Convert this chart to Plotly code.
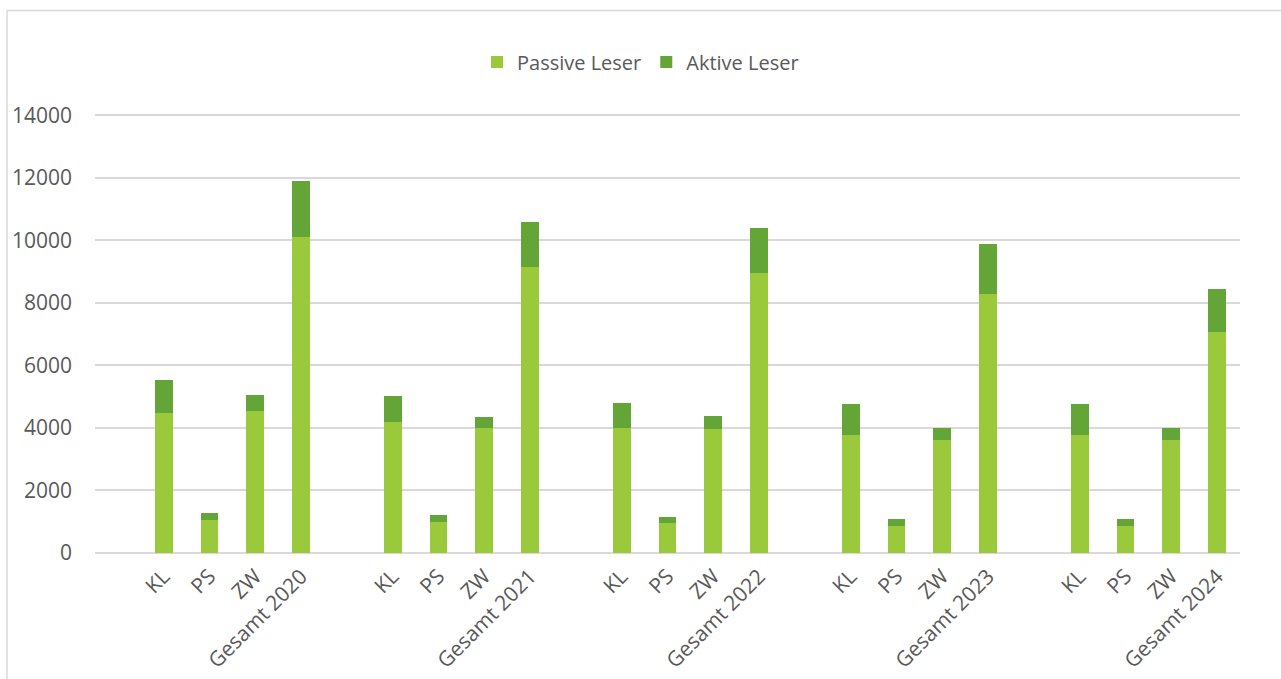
import plotly.graph_objects as go

labels = ["KL", "PS", "ZW", "Gesamt 2020", "",
          "KL", "PS", "ZW", "Gesamt 2021", "",
          "KL", "PS", "ZW", "Gesamt 2022", "",
          "KL", "PS", "ZW", "Gesamt 2023", "",
          "KL", "PS", "ZW", "Gesamt 2024"]

passive = [4480, 1060, 4545, 10100, None,
           4185, 990, 3995, 9160, None,
           4000, 970, 3970, 8965, None,
           3770, 870, 3620, 8275, None,
           3770, 860, 3610, 7060]

active = [1045, 225, 500, 1790, None,
          845, 225, 365, 1435, None,
          810, 190, 405, 1415, None,
          1000, 215, 385, 1600, None,
          1000, 220, 385, 1370]

y_ticks = [0, 2000, 4000, 6000, 8000, 10000, 12000, 14000]

x = list(range(1, len(labels) + 1))

FONT = "Open Sans"
TXT = "#595959"
FS = 21

fig = go.Figure()
fig.add_trace(go.Bar(x=x, y=passive, name="Passive Leser", width=0.39,
                     marker=dict(color="#9ACA3C", line=dict(width=0))))
fig.add_trace(go.Bar(x=x, y=active, name="Aktive Leser", width=0.39,
                     marker=dict(color="#63A537", line=dict(width=0))))

fig.update_layout(
    barmode="stack",
    width=1281, height=679,
    margin=dict(l=95, r=41, t=113, b=126, autoexpand=False),
    paper_bgcolor="white", plot_bgcolor="white",
    font=dict(family=FONT, size=FS, color=TXT),
    legend=dict(orientation="h", xref="container", x=0.5, xanchor="center",
                yref="container", y=1 - 62 / 679, yanchor="middle",
                font=dict(family=FONT, size=FS - 1, color=TXT),
                traceorder="normal", itemwidth=30),
    xaxis=dict(range=[-0.5, 24.5], tickmode="array", tickvals=x, ticktext=labels,
               tickangle=-45, showgrid=False, zeroline=False, showline=False,
               ticks="", ticklabelstandoff=6, automargin=False,
               tickfont=dict(family=FONT, size=FS, color=TXT)),
    yaxis=dict(range=[0, 14070], tickmode="array", tickvals=y_ticks,
               ticktext=[str(v) for v in y_ticks], automargin=False,
               showgrid=True, gridcolor="#D9D9D9", gridwidth=1.5,
               zeroline=True, zerolinecolor="#D9D9D9", zerolinewidth=1.5,
               showline=False, ticks="", ticklabelstandoff=22,
               tickfont=dict(family=FONT, size=FS, color=TXT)),
    shapes=[
        dict(type="line", xref="paper", yref="paper",
             x0=(7 - 95) / 1145, x1=1.2, y0=(553 - 10.5) / 440, y1=(553 - 10.5) / 440,
             line=dict(color="#D9D9D9", width=1.5)),
        dict(type="line", xref="paper", yref="paper",
             x0=(7 - 95) / 1145, x1=(7 - 95) / 1145, y0=(553 - 10.5) / 440, y1=-0.5,
             line=dict(color="#D9D9D9", width=1.5)),
    ],
)

fig.write_html("out.html")
